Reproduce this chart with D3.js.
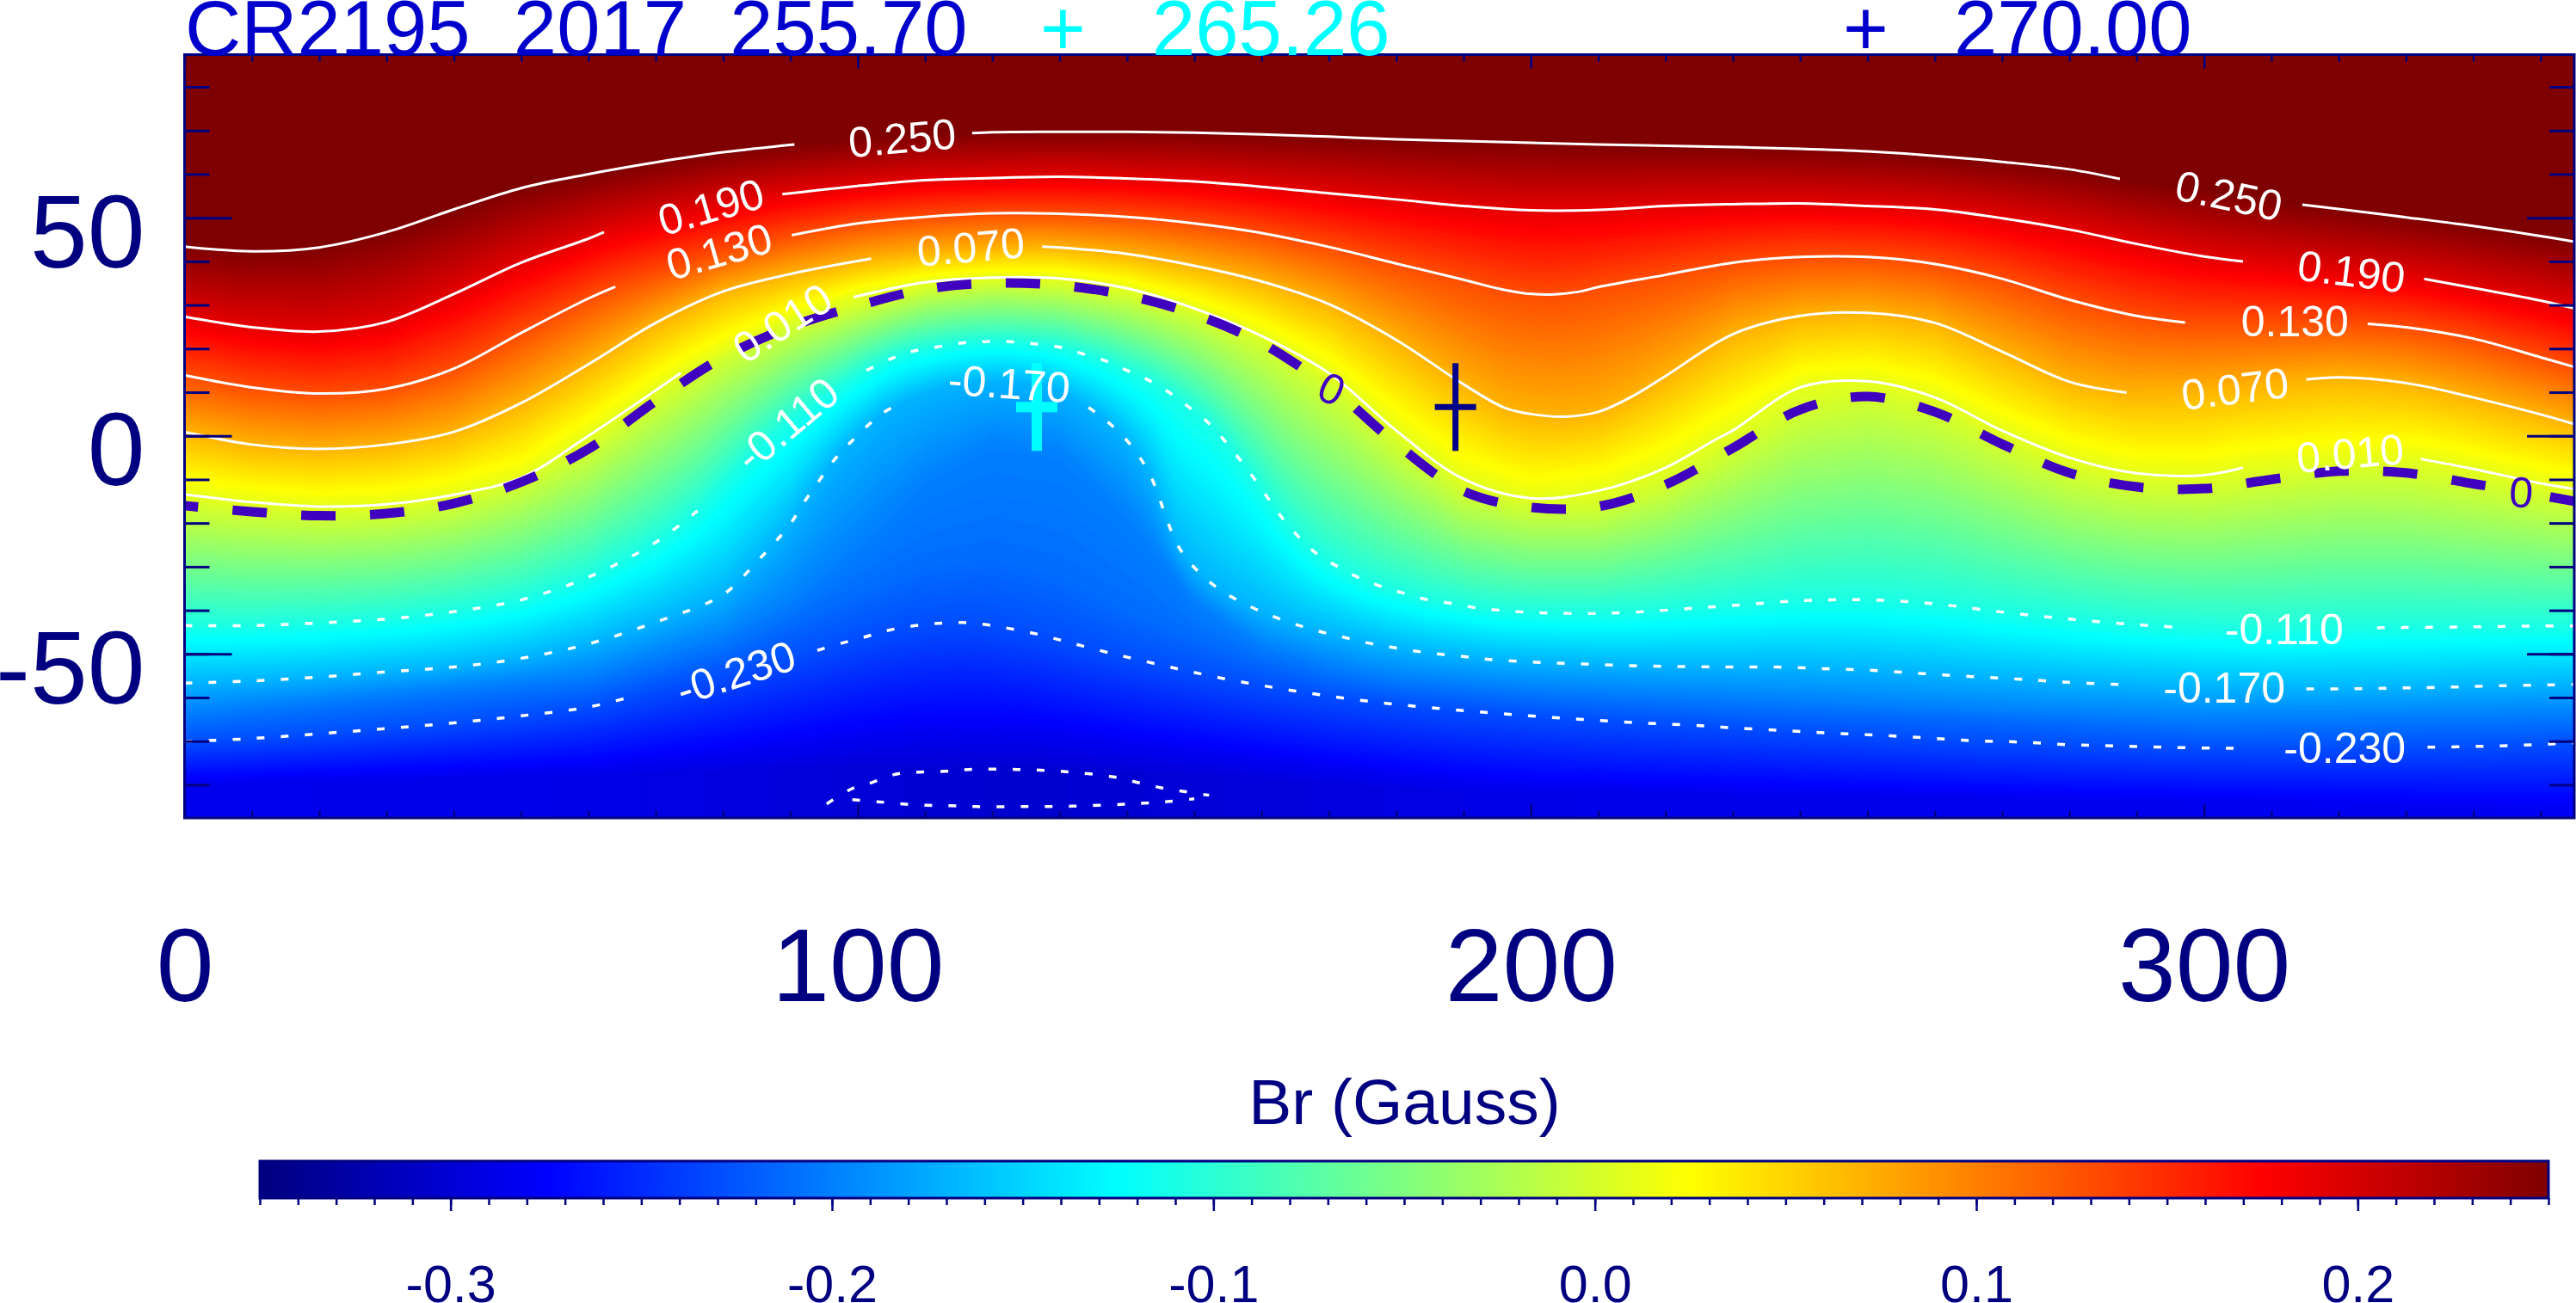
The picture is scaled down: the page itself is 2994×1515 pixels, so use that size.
<!DOCTYPE html>
<html>
<head>
<meta charset="utf-8">
<title>CR2195 Br</title>
<script src="https://d3js.org/d3.v7.min.js"></script>
<style>
    html, body { margin: 0; padding: 0; background: #fff; }
    #chart { position: relative; width: 2994px; height: 1515px; overflow: hidden; }
    canvas, svg { position: absolute; left: 0; top: 0; }
    text { font-family: "Liberation Sans", Arial, sans-serif; white-space: pre; }
</style>
</head>
<body>
<div id="chart"></div>
<script>
'use strict';

// tick labels
var xTicks = [0, 100, 200, 300];
var yTicks = [-50, 0, 50];
var barTicks = [-0.3, -0.2, -0.1, 0, 0.1, 0.2];
var barLabels = ['-0.3', '-0.2', '-0.1', '0.0', '0.1', '0.2'];

// colour table, value at each stop of the bar
var barStops = [-0.35, -0.275, -0.125, 0.025, 0.175, 0.25];
var barColours = ['#00007f', '#0000ff', '#00ffff', '#ffff00', '#ff0000', '#7f0000'];

// contours as [longitude, latitude]
var c250 = [[0, 43.4], [10, 42.3], [20, 43.2], [30, 46.7], [40, 51.9], [50, 56.8], [60, 60], [70, 62.7], [80, 65], [90.6, 66.8], [100, 68], [110, 69], [117, 69.4], [120, 69.6], [130, 69.7], [140, 69.7], [150, 69.5], [160, 69.1], [170, 68.6], [180, 68], [190, 67.6], [200, 67.2], [210, 66.8], [220, 66.5], [230, 66.2], [240, 65.8], [250, 65.2], [260, 64.2], [270, 62.8], [280, 61.1], [287.5, 58.9], [300, 56.3], [314.6, 53], [320, 52], [330, 50.1], [340, 48.1], [350, 45.8], [355, 44.5]];
var c190 = [[0, 27.3], [10, 24.9], [20, 23.9], [30, 26.1], [40, 32.5], [50, 39.7], [60, 45.2], [62.3, 46.7], [70, 49.5], [80, 53.2], [88.8, 55.4], [100, 57.3], [110, 58.6], [120, 59.1], [130, 59.4], [140, 59], [150, 58.3], [160, 57.1], [170, 55.6], [180, 54.2], [190, 52.7], [200, 51.7], [210, 51.8], [220, 52.7], [230, 53.1], [240, 53.3], [250, 52.7], [260, 51.9], [270, 49.9], [280, 47.3], [290, 44], [300, 41.1], [305.8, 40], [320, 37.8], [332.7, 36], [340, 33.9], [350, 31], [355, 29.2]];
var c130 = [[0, 13.9], [10, 11.1], [20, 9.7], [30, 10.8], [40, 15.4], [50, 23.6], [60, 31.5], [64, 34.2], [70, 37.2], [80, 42.3], [90.2, 46], [100, 48.7], [110, 50.2], [120, 51], [130, 50.9], [140, 50.2], [150, 48.7], [160, 46.5], [170, 43.3], [180, 39.5], [190, 35.8], [195, 33.8], [199, 32.7], [203, 32.4], [207, 33], [210, 34.1], [220, 36.9], [230, 39.7], [240, 41], [250, 41], [260, 39.4], [270, 36], [280, 31.2], [290, 27.5], [297.2, 26], [310, 26], [324.3, 25.7], [330, 24.9], [340, 22.3], [350, 18], [355, 15.8]];
var c070 = [[0, 0.9], [10, -2], [20, -3], [30, -2], [40, 0.9], [50, 7.5], [60, 16.4], [70, 25.9], [80, 33.1], [90, 37.1], [102, 40.6], [110, 41.9], [120, 43], [127.4, 43.4], [130, 43.2], [140, 41.7], [150, 39], [160, 35.4], [170, 30.2], [180, 22], [190, 11.8], [196, 6.5], [200, 5], [205, 4.4], [210, 5.5], [215, 9], [220, 13.7], [230, 23.3], [240, 27.5], [250, 28.2], [260, 25.9], [270, 19.3], [280, 12.4], [288.5, 9.9], [300, 10.5], [315.2, 12.9], [320, 13.4], [330, 12.1], [340, 8.8], [350, 4.9], [355, 2.7]];
var c010 = [[0, -13.4], [10, -15.2], [20, -16.2], [30, -15.7], [40, -13.5], [50, -9.6], [60, 0], [73.7, 14.4], [80, 19.5], [90, 26.7], [99.4, 31.8], [110, 35.2], [120, 36.3], [130, 36.1], [140, 33.8], [150, 29.2], [160, 22.9], [170, 14.4], [180, 1.2], [190, -9.9], [200, -14.3], [210, -12.6], [220, -7.3], [227.5, -0.8], [230, 1.2], [240, 11.1], [250, 12.5], [260, 8.8], [270, 1.2], [280, -5], [290, -8.6], [300, -9], [305.8, -7.3], [320, -5.5], [332.2, -5.3], [340, -7.6], [350, -10.9], [355, -12.2]];
var c000 = [[0, -16], [10, -17.4], [20, -18.3], [30, -17.8], [40, -15.5], [50, -10.6], [60, -3], [70, 8], [80, 18], [90, 25], [100, 29.8], [110, 33.6], [120, 35], [130, 34.5], [140, 32.2], [150, 27.9], [160, 21.3], [166.9, 14.6], [170, 11.2], [174, 6.3], [180, -1.8], [190, -12.7], [200, -16.4], [210, -16.2], [220, -11.2], [230, -2.8], [240, 6], [250, 9], [260, 5.5], [270, -1.9], [280, -8.5], [290, -11.7], [300, -12.1], [310, -10], [320, -8.1], [330, -8.5], [340, -11], [343, -11.7], [350, -13.6], [351.4, -14], [355, -15]];
var cm110 = [[0, -43.5], [10, -43.5], [20, -42.9], [30, -42], [40, -40.3], [50, -37.6], [60, -32.4], [70, -24.4], [76.2, -17.2], [85, -3], [90, 3.5], [95, 9], [101.3, 15], [105, 17.7], [108.2, 19.4], [111.9, 20.4], [115.6, 21.3], [119, 21.6], [122.6, 21.6], [126.2, 21.1], [129.8, 20.4], [133, 19], [136.8, 17.2], [140, 15], [143.3, 12.7], [146.4, 9.8], [149.2, 6.6], [152, 3.1], [154.5, -1.1], [156.7, -5.3], [158.9, -9.8], [161, -14.4], [163.1, -18.9], [165.4, -23], [168, -26.8], [171.2, -29.9], [174.3, -32.4], [177.7, -34.5], [181.2, -36.1], [184.7, -37.6], [188.2, -38.4], [191.7, -39.4], [195.4, -40], [198.9, -40.4], [202.5, -40.6], [209.6, -40.7], [216.9, -40.3], [224.3, -39.5], [230, -38.9], [240, -37.8], [250, -37.6], [260, -38.5], [270, -40.4], [280, -42], [290, -43.3], [296.4, -43.9], [310, -44.6], [325.7, -44], [340, -43.8], [350, -43.6], [355, -43.6]];
var cm170 = [[0, -56.7], [10, -56.2], [20, -55.3], [30, -54.1], [40, -53], [50, -51], [60, -47.7], [70, -42.7], [80, -36.4], [85.1, -28.7], [87.6, -24.6], [90, -20.2], [91.9, -15.5], [94, -10.9], [96.1, -6.3], [98.6, -2], [103.7, 5.2], [107, 7.8], [112, 10.8], [117, 12.3], [122, 12.6], [127, 11.8], [131, 9.5], [134.3, 6.5], [136.9, 3.5], [139.6, -0.4], [141.8, -4.7], [143.6, -9.5], [144.9, -14.7], [146.1, -19.9], [147.5, -25], [149.6, -29.5], [152.2, -33.4], [155.2, -36.6], [158.4, -39.2], [161.7, -41.4], [165.2, -43.3], [168.5, -44.8], [172, -46.1], [175.5, -47.4], [179.1, -48.4], [182.6, -49.3], [186.2, -50], [189.9, -50.6], [193.5, -51.2], [200.6, -51.9], [207.8, -52.3], [215, -52.7], [222.4, -52.9], [229.4, -53], [236.6, -53], [243.8, -53.4], [251, -53.8], [258.2, -54.5], [265.5, -55.2], [272.6, -55.8], [279.8, -56.5], [287.3, -57], [300, -57.7], [315.2, -58], [322.2, -58], [329.5, -57.8], [336.7, -57.6], [344, -57.3], [351.3, -57.1], [355, -57]];
var cm230 = [[0, -70.1], [10, -69.4], [20, -68.3], [30, -67.1], [40, -65.8], [50, -64.2], [60, -62.2], [66.4, -59.8], [81.9, -54.3], [94, -49.2], [97.7, -47.5], [101.1, -46.1], [104.5, -44.6], [108.2, -43.6], [111.9, -43], [115.5, -42.8], [119.1, -43.3], [122.6, -44.2], [126.2, -45.3], [129.8, -46.7], [133.2, -48.1], [136.7, -49.5], [140.2, -50.8], [147.2, -53.3], [154.2, -55.6], [161.4, -57.6], [168.4, -59.3], [175.6, -60.8], [182.8, -62], [190, -63], [197.2, -63.9], [204.4, -64.7], [211.7, -65.4], [218.8, -66], [225.9, -66.5], [229.4, -66.9], [236.6, -67.5], [243.8, -68.1], [251, -68.6], [258.2, -69.2], [265.5, -69.9], [272.6, -70.2], [279.8, -70.8], [287, -71.1], [294.2, -71.4], [301.4, -71.6], [305.3, -71.6], [320, -71.6], [333.2, -71.4], [340.5, -71.2], [347.7, -70.9], [355, -70.4]];
var pocketUpper = [[95.4, -84.4], [99, -81], [102.1, -79.5], [105.6, -77.6], [109.2, -77.1], [112.9, -76.9], [116.5, -76.5], [123.7, -76.5], [130.9, -77], [138, -78.2], [141.7, -79.5], [145.1, -80.7], [148.7, -81.6], [152.2, -82.4]];
var pocketLower = [[99.2, -83.4], [103, -83.9], [106.7, -84.4], [110.3, -84.7], [113.8, -84.8], [117.5, -85], [124.7, -85], [131.9, -84.9], [139.2, -84.5], [142.8, -84.2], [146.4, -83.8], [150, -83.2]];

var shade200 = [[0, -63.4], [60, -55], [80, -46], [90, -38], [100, -25], [110, -10], [120, -2], [130, -4], [140, -18], [150, -38], [160, -48], [170, -52.5], [180, -55.5], [200, -58], [230, -60], [270, -63], [300, -64.7], [355, -63.7]];
var shade212 = [[0, -66.1], [60, -57.9], [80, -49.6], [90, -43], [100, -36], [110, -30], [120, -28], [130, -32], [140, -40], [150, -46], [160, -51.5], [170, -55.5], [180, -57.9], [200, -60.4], [230, -62.8], [270, -65], [300, -67.5], [355, -66.5]];

// value near the bottom of the map and the latitude it is reached at
var bottomEdge = [[0, -0.284], [60, -0.288], [100, -0.298], [125, -0.303], [150, -0.298], [200, -0.288], [355, -0.28]];
var floorLine = [[0, -80], [60, -78], [100, -76], [150, -78], [190, -82], [355, -85]];

var levels = [
    {value: 0.25, line: c250, gaps: [[90.6, 117], [287.5, 314.6]]},
    {value: 0.19, line: c190, gaps: [[62.3, 88.8], [305.8, 332.7]]},
    {value: 0.13, line: c130, gaps: [[64, 90.2], [297.2, 324.3]]},
    {value: 0.07, line: c070, gaps: [[102, 127.4], [288.5, 315.2]]},
    {value: 0.01, line: c010, gaps: [[73.7, 99.4], [305.8, 332.2]]},
    {value: 0, line: c000, hidden: true},
    {value: -0.11, line: cm110, gaps: [[76.2, 101.3], [296.4, 325.7]]},
    {value: -0.17, line: cm170, gaps: [[107, 134.3], [287.3, 315.2]]},
    {value: -0.2, line: shade200, hidden: true},
    {value: -0.212, line: shade212, hidden: true},
    {value: -0.23, line: cm230, gaps: [[66.4, 94], [305.3, 333.2]]}
];

// pieces of the zero line between its labels: from, to, dash offset
var zeroParts = [[0, 166.9, 24], [174, 343, 0], [351.4, 355, 0]];

// contour labels: text, longitude, latitude, rotation
var labels = [
    ['0.250', 106.6, 68.3, -5], ['0.190', 78.2, 52.5, -16], ['0.130', 79.4, 42.3, -16],
    ['0.070', 116.8, 43.3, -5], ['0.010', 88.8, 25.9, -33], ['-0.110', 89.5, 2.7, -40],
    ['-0.170', 122.5, 12, 4], ['-0.230', 81.9, -54.3, -18], ['0.250', 303.7, 55.1, 12],
    ['0.190', 321.9, 37.7, 7], ['0.130', 313.5, 26.2, 0], ['0.070', 304.6, 10.8, -7],
    ['0.010', 321.7, -4, -5], ['-0.110', 311.9, -44.3, 0], ['-0.170', 303, -57.8, 0],
    ['-0.230', 320.9, -71.6, 0]
];
var zeroLabels = [['0', 170.4, 10.8, 25], ['0', 347.1, -12.9, 3]];

// markers, longitude and latitude
var cyanMark = [126.6, 6.6];
var blueMark = [188.8, 6.6];

var navy = '#000080';
var titleBlue = '#0000cd';
var cyan = '#00ffff';
var zeroColour = '#3f00c0';

var x = d3.scaleLinear().domain([0, 355]).range([214.5, 2992]);
var y = d3.scaleLinear().domain([87.4, -87.6]).range([63.5, 951]);
var bar = d3.scaleLinear().domain([-0.35, 0.25]).range([302, 2962]);
var colour = d3.scaleLinear().domain(barStops).range(barColours).clamp(true);

var chart = d3.select('#chart');
drawField();

var svg = chart.append('svg').attr('width', 2994).attr('height', 1515);
drawContours();
drawMark(cyanMark, cyan, 12);
drawMark(blueMark, '#00008b', 7);
drawLabels();
drawAxes();
drawTitle();
drawBar();

function lineScale(points) {
    return d3.scaleLinear()
        .domain(points.map(function (p) { return p[0]; }))
        .range(points.map(function (p) { return p[1]; }))
        .clamp(true);
}

function drawField() {
    var left = Math.round(x.range()[0]), right = Math.round(x.range()[1]);
    var top = Math.round(y.range()[0]), bottom = Math.round(y.range()[1]);
    var w = right - left, h = bottom - top;
    var canvas = chart.append('canvas').attr('width', w).attr('height', h)
        .style('left', left + 'px').style('top', top + 'px').node();
    var ctx = canvas.getContext('2d');
    var image = ctx.createImageData(w, h);

    // lookup table so the field has the same 256 levels as the bar
    var table = d3.range(256).map(function (i) {
        return d3.rgb(colour(-0.35 + 0.6 * i / 255));
    });
    var scales = levels.map(function (l) { return lineScale(l.line); });
    var edge = lineScale(bottomEdge), floor = lineScale(floorLine);

    for (var i = 0; i < w; i++) {
        var lon = x.invert(left + i + 0.5);
        var nodes = [[y.domain()[0] + 1, 0.25]];
        scales.forEach(function (s, k) {
            nodes.push([s(lon), levels[k].value]);
        });
        nodes.push([floor(lon), edge(lon)], [y.domain()[1] - 1, edge(lon)]);
        nodes.reverse();
        var field = d3.scaleLinear()
            .domain(nodes.map(function (n) { return n[0]; }))
            .range(nodes.map(function (n) { return n[1]; }))
            .clamp(true);
        for (var j = 0; j < h; j++) {
            var v = field(y.invert(top + j + 0.5));
            var c = table[Math.max(0, Math.min(255, Math.round((v + 0.35) / 0.6 * 255)))];
            var p = (j * w + i) * 4;
            image.data[p] = c.r;
            image.data[p + 1] = c.g;
            image.data[p + 2] = c.b;
            image.data[p + 3] = 255;
        }
    }
    ctx.putImageData(image, 0, 0);
}

function contourPath(points, gaps) {
    return d3.line()
        .defined(function (d) {
            return !gaps.some(function (g) { return d[0] > g[0] && d[0] < g[1]; });
        })
        .x(function (d) { return x(d[0]); })
        .y(function (d) { return y(d[1]); })
        .curve(d3.curveCatmullRom.alpha(0.5))(points);
}

function drawContours() {
    var g = svg.append('g').attr('fill', 'none');

    levels.filter(function (l) { return !l.hidden; }).forEach(function (l) {
        var path = g.append('path').attr('d', contourPath(l.line, l.gaps));
        if (l.value < 0) {
            path.attr('stroke', '#fff').attr('stroke-width', 3.5).attr('stroke-dasharray', '9 19');
        } else {
            path.attr('stroke', '#fff').attr('stroke-width', 3);
        }
    });

    [pocketUpper, pocketLower].forEach(function (points) {
        g.append('path').attr('d', contourPath(points, []))
            .attr('stroke', '#fff').attr('stroke-width', 3.5).attr('stroke-dasharray', '9 19');
    });

    zeroParts.forEach(function (part) {
        var points = c000.filter(function (p) { return p[0] >= part[0] && p[0] <= part[1]; });
        g.append('path').attr('d', contourPath(points, []))
            .attr('stroke', zeroColour).attr('stroke-width', 11)
            .attr('stroke-dasharray', '40 40').attr('stroke-dashoffset', part[2]);
    });
}

function drawMark(mark, stroke, width) {
    var cx = x(mark[0]), cy = y(mark[1]);
    var g = svg.append('g').attr('stroke', stroke).attr('stroke-width', width);
    g.append('line').attr('x1', cx).attr('x2', cx).attr('y1', cy - 51).attr('y2', cy + 51);
    g.append('line').attr('x1', cx - 24).attr('x2', cx + 24).attr('y1', cy).attr('y2', cy);
}

function drawLabels() {
    function place(data, fill) {
        svg.append('g').selectAll('text').data(data).enter().append('text')
            .attr('transform', function (d) {
                return 'translate(' + x(d[1]) + ',' + y(d[2]) + ') rotate(' + d[3] + ')';
            })
            .attr('text-anchor', 'middle')
            .attr('dy', '0.35em')
            .attr('font-size', 50)
            .attr('fill', fill)
            .text(function (d) { return d[0]; });
    }
    place(labels, '#fff');
    place(zeroLabels, zeroColour);
}

function styleAxis(g, width) {
    g.selectAll('path').remove();
    g.selectAll('line').attr('stroke', navy).attr('stroke-width', width);
    g.selectAll('text').attr('fill', navy);
}

function drawAxes() {
    var xMinor = d3.range(0, 356, 10);
    var yMinor = d3.range(-80, 81, 10);
    var xBottom = 'translate(0,' + y.range()[1] + ')';
    var xTop = 'translate(0,' + y.range()[0] + ')';
    var yLeft = 'translate(' + x.range()[0] + ',0)';
    var yRight = 'translate(' + x.range()[1] + ',0)';
    var none = function () { return ''; };

    function add(axis, at, width) {
        var g = svg.append('g').attr('transform', at).call(axis);
        styleAxis(g, width);
        return g;
    }

    add(d3.axisBottom(x).tickValues(xMinor).tickSize(-8).tickFormat(none), xBottom, 2.5);
    add(d3.axisTop(x).tickValues(xMinor).tickSize(-8).tickFormat(none), xTop, 2.5);
    add(d3.axisLeft(y).tickValues(yMinor).tickSize(-29).tickFormat(none), yLeft, 3);
    add(d3.axisRight(y).tickValues(yMinor).tickSize(-29).tickFormat(none), yRight, 3);

    var xLabels = add(d3.axisBottom(x).tickValues(xTicks).tickSize(-16).tickPadding(128)
        .tickFormat(String), xBottom, 2.5);
    xLabels.selectAll('text').attr('font-size', 120).attr('dy', '0.71em')
        .style('font-family', '"Liberation Sans", Arial, sans-serif');
    add(d3.axisTop(x).tickValues(xTicks).tickSize(-16).tickFormat(none), xTop, 2.5);

    var yLabels = add(d3.axisLeft(y).tickValues(yTicks).tickSize(-55).tickPadding(46)
        .tickFormat(String), yLeft, 3);
    yLabels.selectAll('text').attr('font-size', 120).attr('dy', '0.475em')
        .style('font-family', '"Liberation Sans", Arial, sans-serif');
    add(d3.axisRight(y).tickValues(yTicks).tickSize(-55).tickFormat(none), yRight, 3);

    var frame = svg.append('g').attr('stroke', navy).attr('fill', 'none');
    frame.append('rect')
        .attr('x', x.range()[0]).attr('y', y.range()[0])
        .attr('width', x.range()[1] - x.range()[0]).attr('height', y.range()[1] - y.range()[0])
        .attr('stroke-width', 3);
}

function drawTitle() {
    var g = svg.append('g').attr('font-size', 90.4);
    g.append('text').attr('x', 215).attr('y', 64).attr('fill', titleBlue).text('CR2195  2017  255.70');
    g.append('text').attr('x', 1209).attr('y', 64).attr('fill', cyan).text('+');
    g.append('text').attr('x', 1339).attr('y', 64).attr('fill', cyan).text('265.26');
    g.append('text').attr('x', 2142).attr('y', 64).attr('fill', titleBlue).text('+');
    g.append('text').attr('x', 2271).attr('y', 64).attr('fill', titleBlue).text('270.00');
}

function drawBar() {
    var top = 1350, bottom = 1393;
    var grad = svg.append('defs').append('linearGradient').attr('id', 'bar-gradient');
    barStops.forEach(function (v, i) {
        grad.append('stop')
            .attr('offset', (v - bar.domain()[0]) / (bar.domain()[1] - bar.domain()[0]))
            .attr('stop-color', barColours[i]);
    });

    svg.append('rect')
        .attr('x', bar.range()[0]).attr('y', top)
        .attr('width', bar.range()[1] - bar.range()[0]).attr('height', bottom - top)
        .attr('fill', 'url(#bar-gradient)')
        .attr('stroke', navy).attr('stroke-width', 3);

    var at = 'translate(0,' + bottom + ')';
    var minor = svg.append('g').attr('transform', at)
        .call(d3.axisBottom(bar).tickValues(d3.range(-35, 26).map(function (d) { return d / 100; }))
            .tickSize(8).tickFormat(function () { return ''; }));
    styleAxis(minor, 2.5);

    var major = svg.append('g').attr('transform', at)
        .call(d3.axisBottom(bar).tickValues(barTicks).tickSize(15).tickPadding(63)
            .tickFormat(function (d, i) { return barLabels[i]; }));
    styleAxis(major, 2.5);
    major.selectAll('text').attr('font-size', 61).attr('dy', '0.71em')
        .style('font-family', '"Liberation Sans", Arial, sans-serif');

    svg.append('text')
        .attr('x', 1632.5).attr('y', 1307)
        .attr('text-anchor', 'middle')
        .attr('font-size', 75)
        .attr('fill', navy)
        .text('Br (Gauss)');
}
</script>
</body>
</html>
